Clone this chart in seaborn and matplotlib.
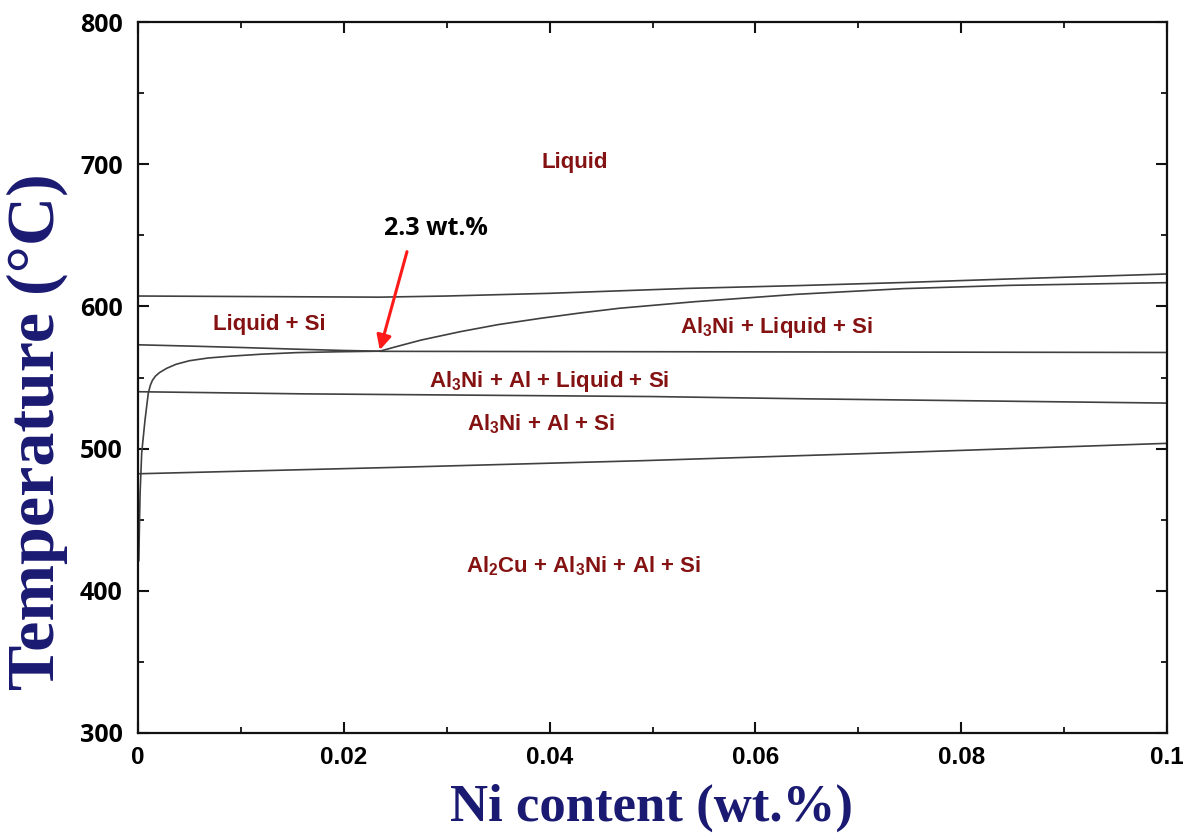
import numpy as np
import pandas as pd
import matplotlib
matplotlib.use("Agg")
import matplotlib.pyplot as plt
from matplotlib.ticker import MultipleLocator, FixedLocator
import seaborn as sns

# ---------------- data ----------------
# Upper liquidus (Liquid / Liquid + Si and Liquid / Al3Ni + Liquid + Si)
si_liq_x = [0.0, 0.0235, 0.030, 0.040, 0.0536, 0.064, 0.0744, 0.0847, 0.100]
si_liq_T = [607.3, 606.5, 607.3, 609.2, 612.7, 614.6, 616.8, 619.3, 622.8]

# Al3Ni liquidus from the eutectic point
al3ni_liq_x = [0.0235, 0.025, 0.0275, 0.0313, 0.035, 0.0391, 0.043, 0.0468,
               0.0541, 0.064, 0.0744, 0.0847, 0.100]
al3ni_liq_T = [568.5, 571.5, 576.3, 582.2, 587.2, 591.6, 595.4, 598.7,
               603.3, 608.5, 612.5, 614.8, 616.7]

# Line from 573 °C at x=0 down to the eutectic point
si_al_x = [0.0, 0.005, 0.010, 0.015, 0.020, 0.0235]
si_al_T = [573.0, 572.1, 571.1, 570.0, 569.0, 568.5]

# Nearly horizontal eutectic line
eut_x = [0.0235, 0.100]
eut_T = [568.4, 567.6]

# Steep Al3Ni solvus-type curve near x = 0
solv_x = [0.00008, 0.00015, 0.0002, 0.00036, 0.00068, 0.0010, 0.0012, 0.0014,
          0.0017, 0.0021, 0.0028, 0.0037, 0.0050, 0.0068, 0.0090, 0.0120,
          0.0154, 0.0195, 0.0235]
solv_T = [421.0, 450.0, 468.0, 497.0, 520.0, 539.0, 544.5, 548.0,
          551.0, 553.5, 556.5, 559.3, 561.8, 563.7, 565.0, 566.4,
          567.5, 568.1, 568.5]

# Solidus
sol_x = [0.0, 0.016, 0.050, 0.065, 0.100]
sol_T = [540.0, 538.5, 536.6, 535.0, 532.0]

# Al2Cu formation line
cu_x = [0.0, 0.025, 0.049, 0.075, 0.100]
cu_T = [482.3, 486.8, 491.5, 497.5, 503.7]

# Region labels: (x, T, text)
region_x = [0.0424, 0.0128, 0.0620, 0.0400, 0.0392, 0.0433]
region_T = [701.0, 587.0, 585.0, 547.5, 517.3, 417.4]
region_txt = ["Liquid", "Liquid + Si", r"Al$_3$Ni + Liquid + Si",
              r"Al$_3$Ni + Al + Liquid + Si", r"Al$_3$Ni + Al + Si",
              r"Al$_2$Cu + Al$_3$Ni + Al + Si"]

# Eutectic annotation
eut_point = (0.0235, 569.3)
eut_label_pos = (0.0290, 655.0)
eut_label = "2.3 wt.%"

x_ticks = [0, 0.02, 0.04, 0.06, 0.08, 0.1]
x_ticklabels = ["0", "0.02", "0.04", "0.06", "0.08", "0.1"]
y_ticks = [300, 400, 500, 600, 700, 800]

# ---------------- build long table ----------------
series = {
    "si_liq": (si_liq_x, si_liq_T),
    "al3ni_liq": (al3ni_liq_x, al3ni_liq_T),
    "si_al": (si_al_x, si_al_T),
    "eut": (eut_x, eut_T),
    "solv": (solv_x, solv_T),
    "sol": (sol_x, sol_T),
    "cu": (cu_x, cu_T),
}
rows = []
for name, (xs, ts) in series.items():
    for i, (xv, tv) in enumerate(zip(xs, ts)):
        rows.append({"line": name, "order": i, "x": xv, "T": tv})
df = pd.DataFrame(rows)

# ---------------- style ----------------
sns.set_theme(style="ticks")
plt.rcParams["font.family"] = ["Liberation Sans", "DejaVu Sans"]
plt.rcParams["mathtext.fontset"] = "custom"
plt.rcParams["mathtext.rm"] = "Liberation Sans:bold"
plt.rcParams["mathtext.it"] = "Liberation Sans:bold"
plt.rcParams["mathtext.bf"] = "Liberation Sans:bold"

fig = plt.figure(figsize=(11.97, 8.33), dpi=100)
ax = fig.add_axes([138 / 1197, 1 - 733 / 833, 1029 / 1197, 711 / 833])

sns.lineplot(data=df, x="x", y="T", units="line", estimator=None, sort=False,
             color="#404040", linewidth=1.2, ax=ax, legend=False)

ax.set_xlim(0, 0.1)
ax.set_ylim(300, 800)

# ticks
ax.xaxis.set_major_locator(FixedLocator(x_ticks))
ax.set_xticklabels(x_ticklabels)
ax.xaxis.set_minor_locator(MultipleLocator(0.01))
ax.yaxis.set_major_locator(FixedLocator(y_ticks))
ax.yaxis.set_minor_locator(MultipleLocator(50))
ax.tick_params(which="both", direction="in", top=True, right=True, color="#111111")
ax.tick_params(which="major", length=8, width=1.5)
ax.tick_params(which="minor", length=4.5, width=1.3)
ax.tick_params(axis="x", which="major", pad=9)
ax.tick_params(axis="y", which="major", pad=11)
for lab in ax.get_xticklabels():
    lab.set_fontfamily("Liberation Sans")
    lab.set_fontweight("bold")
    lab.set_fontsize(17.5)
    lab.set_color("black")
for lab in ax.get_yticklabels():
    lab.set_fontfamily("Open Sans")
    lab.set_fontweight("bold")
    lab.set_fontsize(18)
    lab.set_color("black")

for sp in ax.spines.values():
    sp.set_linewidth(1.6)
    sp.set_color("#111111")

# axis labels
navy = "#1a1a72"
ax.set_xlabel("Ni content (wt.%)", fontfamily="Liberation Serif", fontweight="bold",
              fontsize=38, color=navy)
ax.set_ylabel("Temperature (°C)", fontfamily="Liberation Serif", fontweight="bold",
              fontsize=49, color=navy)
ax.xaxis.set_label_coords(0.4995, -0.071)
ax.yaxis.set_label_coords(-0.068, 0.424)

# region labels
for xv, tv, txt in zip(region_x, region_T, region_txt):
    ax.text(xv, tv, txt, ha="center", va="center", fontsize=16, fontweight="bold",
            fontfamily="Liberation Sans", color="#851212")

# eutectic arrow + label
ax.annotate("", xy=eut_point, xytext=(0.02614, 638.5),
            arrowprops=dict(arrowstyle="-|>", color="#ff1a1a", lw=2.2,
                            mutation_scale=22, shrinkA=0, shrinkB=0))
ax.text(eut_label_pos[0], eut_label_pos[1], eut_label, ha="center", va="center",
        fontsize=18, fontweight="bold", fontfamily="Open Sans", color="black")

fig.savefig("out.png", dpi=100)
